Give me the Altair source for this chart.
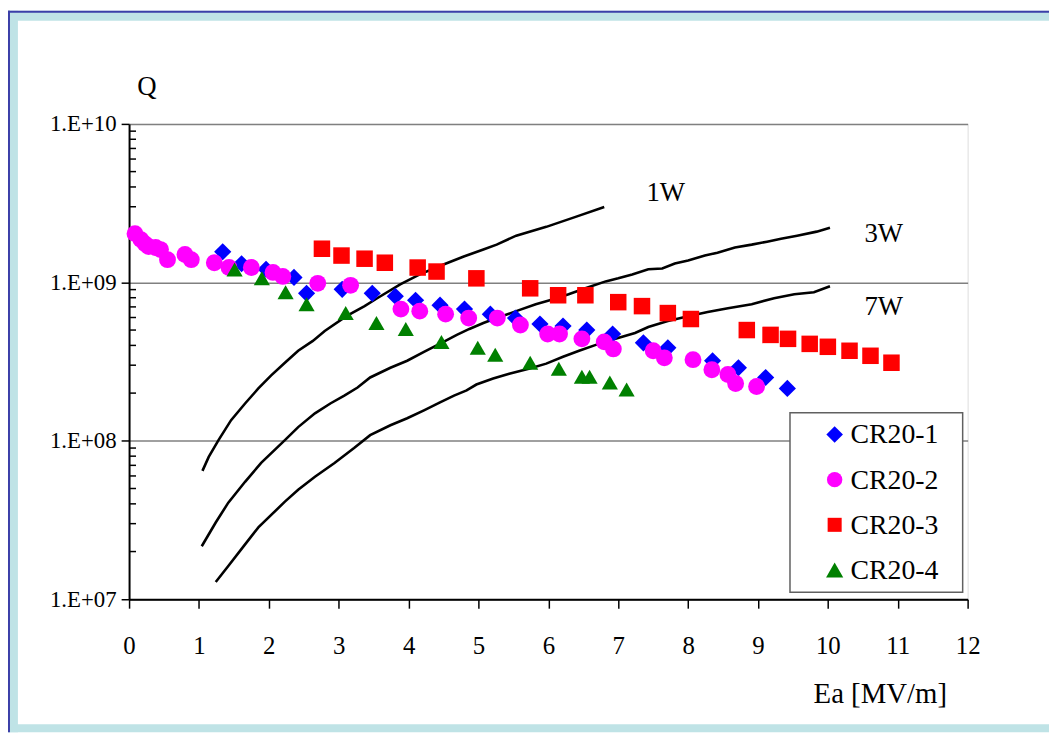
import altair as alt
import pandas as pd

# ---------------- data ----------------
series_names = ["CR20-1", "CR20-2", "CR20-3", "CR20-4"]
series_colors = ["#0000ff", "#ff00ff", "#ff0000", "#008000"]
series_shapes = ["diamond", "circle", "square", "triangle-up"]

ea_cr1 = [1.34, 1.61, 1.96, 2.36, 2.54, 3.05, 3.48, 3.81, 4.10, 4.45, 4.80, 5.17,
          5.53, 5.88, 6.21, 6.55, 6.92, 7.36, 7.71, 8.35, 8.72, 9.11, 9.42]
q_cr1 = [1.56e9, 1.31e9, 1.21e9, 1.075e9, 8.53e8, 9.04e8, 8.53e8, 8.17e8, 7.71e8,
         7.18e8, 6.78e8, 6.30e8, 5.95e8, 5.46e8, 5.30e8, 5.00e8, 4.72e8, 4.15e8,
         3.86e8, 3.20e8, 2.89e8, 2.51e8, 2.14e8]

ea_cr2 = [0.085, 0.17, 0.23, 0.28, 0.38, 0.45, 0.55, 0.80, 0.89, 1.22, 1.43, 1.75,
          2.06, 2.20, 2.70, 3.17, 3.89, 4.16, 4.53, 4.86, 5.27, 5.60, 5.99, 6.16,
          6.48, 6.80, 6.93, 7.50, 7.66, 8.07, 8.34, 8.57, 8.68, 8.98]
q_cr2 = [2.03e9, 1.86e9, 1.75e9, 1.68e9, 1.66e9, 1.61e9, 1.39e9, 1.50e9, 1.39e9,
         1.33e9, 1.24e9, 1.24e9, 1.155e9, 1.09e9, 9.86e8, 9.58e8, 6.78e8, 6.58e8,
         6.30e8, 5.95e8, 5.95e8, 5.38e8, 4.72e8, 4.72e8, 4.40e8, 4.21e8, 3.80e8,
         3.70e8, 3.34e8, 3.25e8, 2.81e8, 2.62e8, 2.30e8, 2.20e8]

ea_cr3 = [2.76, 3.04, 3.37, 3.66, 4.13, 4.40, 4.97, 5.74, 6.14, 6.53, 7.00, 7.34,
          7.71, 8.04, 8.84, 9.18, 9.43, 9.74, 10.00, 10.31, 10.61, 10.91]
q_cr3 = [1.63e9, 1.476e9, 1.41e9, 1.33e9, 1.24e9, 1.17e9, 1.06e9, 9.17e8, 8.29e8,
         8.29e8, 7.50e8, 7.08e8, 6.40e8, 5.87e8, 5.00e8, 4.66e8, 4.40e8, 4.09e8,
         3.92e8, 3.70e8, 3.44e8, 3.11e8]

ea_cr4 = [1.51, 1.90, 2.24, 2.54, 3.10, 3.54, 3.96, 4.47, 4.99, 5.24, 5.74, 6.15,
          6.48, 6.59, 6.88, 7.12]
q_cr4 = [1.206e9, 1.06e9, 8.66e8, 7.28e8, 6.40e8, 5.54e8, 5.08e8, 4.21e8, 3.86e8,
         3.49e8, 3.11e8, 2.85e8, 2.54e8, 2.54e8, 2.33e8, 2.11e8]

curve_names = ["1W", "3W", "7W"]

ea_1w = [1.05, 1.14, 1.28, 1.46, 1.66, 1.85, 2.03, 2.23, 2.42, 2.63, 2.80, 3.11,
         3.37, 3.55, 3.88, 4.16, 4.50, 4.79, 5.07, 5.26, 5.54, 5.97, 6.39, 6.80]
q_1w = [6.46e7, 7.91e7, 1.01e8, 1.35e8, 1.72e8, 2.14e8, 2.58e8, 3.11e8, 3.70e8,
        4.27e8, 4.93e8, 6.12e8, 7.08e8, 7.94e8, 9.72e8, 1.122e9, 1.296e9, 1.455e9,
        1.61e9, 1.73e9, 1.97e9, 2.24e9, 2.59e9, 2.99e9]

ea_3w = [1.04, 1.24, 1.42, 1.66, 1.89, 2.23, 2.42, 2.66, 2.88, 3.08, 3.27, 3.45,
         3.74, 3.98, 4.22, 4.50, 4.69, 4.87, 5.07, 5.26, 5.54, 5.82, 6.07, 6.29,
         6.53, 6.82, 7.00, 7.20, 7.43, 7.63, 7.81, 8.00, 8.24, 8.42, 8.67, 8.91,
         9.13, 9.33, 9.56, 9.84, 10.03]
q_3w = [2.16e7, 3.05e7, 4.07e7, 5.51e7, 7.25e7, 1.01e8, 1.22e8, 1.49e8, 1.72e8,
        1.93e8, 2.17e8, 2.51e8, 2.89e8, 3.20e8, 3.64e8, 4.21e8, 4.66e8, 5.08e8,
        5.54e8, 5.95e8, 6.58e8, 7.28e8, 7.83e8, 8.41e8, 9.17e8, 1.014e9, 1.06e9,
        1.12e9, 1.21e9, 1.224e9, 1.315e9, 1.374e9, 1.476e9, 1.54e9, 1.66e9,
        1.73e9, 1.806e9, 1.886e9, 1.97e9, 2.09e9, 2.21e9]

ea_7w = [1.24, 1.42, 1.66, 1.85, 2.23, 2.42, 2.66, 2.94, 3.22, 3.45, 3.74, 3.98,
         4.22, 4.45, 4.65, 4.83, 4.97, 5.21, 5.44, 5.72, 5.97, 6.21, 6.44, 6.68,
         6.96, 7.24, 7.43, 7.71, 8.00, 8.28, 8.57, 8.91, 9.23, 9.52, 9.80, 10.03]
q_7w = [1.285e7, 1.62e7, 2.22e7, 2.84e7, 4.13e7, 4.91e7, 5.93e7, 7.25e7, 9.0e7,
        1.086e8, 1.254e8, 1.387e8, 1.557e8, 1.747e8, 1.93e8, 2.08e8, 2.265e8,
        2.47e8, 2.65e8, 2.85e8, 3.07e8, 3.39e8, 3.70e8, 4.03e8, 4.40e8, 4.79e8,
        5.23e8, 5.70e8, 6.12e8, 6.49e8, 6.87e8, 7.28e8, 7.94e8, 8.41e8, 8.66e8,
        9.44e8]

label_text = ["1W", "3W", "7W"]
label_ea = [7.68, 10.8, 10.8]
label_q = [3.66e9, 2.03e9, 6.98e8]

y_tick_values = [1e7, 1e8, 1e9, 1e10]
x_tick_values = list(range(0, 13))
minor_mantissas = [2, 3, 4, 5, 6, 7, 8, 9]
minor_decades = [1e7, 1e8, 1e9]

# ---------------- tables ----------------
pts = pd.concat([
    pd.DataFrame({"Ea": ea, "Q": q, "series": name})
    for name, ea, q in zip(series_names,
                           [ea_cr1, ea_cr2, ea_cr3, ea_cr4],
                           [q_cr1, q_cr2, q_cr3, q_cr4])
], ignore_index=True)

curves = pd.concat([
    pd.DataFrame({"Ea": ea, "Q": q, "curve": name, "order": range(len(ea))})
    for name, ea, q in zip(curve_names, [ea_1w, ea_3w, ea_7w], [q_1w, q_3w, q_7w])
], ignore_index=True)

labels = pd.DataFrame({"text": label_text, "Ea": label_ea, "Q": label_q})
minor = pd.DataFrame({"Q": [m * d for d in minor_decades for m in minor_mantissas]})
one = pd.DataFrame({"a": [0]})

FONT = "Times New Roman, Liberation Serif, serif"

xscale = alt.Scale(domain=[0, 12], nice=False, zero=False)
yscale = alt.Scale(type="log", domain=[1e7, 1e10], nice=False)

x_axis = alt.Axis(values=x_tick_values, title=None, grid=False, format="d",
                  labelFont=FONT, labelFontSize=25, labelColor="black", labelPadding=26,
                  tickSize=9, tickColor="black", tickWidth=1.5,
                  domainColor="black", domainWidth=2, labelFlush=False)
y_axis = alt.Axis(values=y_tick_values, title=None, grid=True, gridColor="#808080",
                  gridWidth=1.5, labelFont=FONT, labelFontSize=23, labelColor="black",
                  labelPadding=5, tickSize=8, tickColor="black", tickWidth=1.5,
                  domainColor="black", domainWidth=2, labelFlush=False,
                  labelExpr="'1.E+' + (round(log(datum.value)/LN10) < 10 ? '0' : '') + round(log(datum.value)/LN10)")

# ---------------- slide frame decoration ----------------
frame_light = "#bfe3e6"
frame_dark = "#3b3fa8"
deco = alt.layer(
    alt.Chart(one).mark_rect(color=frame_light).encode(
        x=alt.value(-122), x2=alt.value(-112), y=alt.value(-114), y2=alt.value(613)),
    alt.Chart(one).mark_rect(color=frame_light).encode(
        x=alt.value(-122), x2=alt.value(927), y=alt.value(-114), y2=alt.value(-104)),
    alt.Chart(one).mark_rect(color=frame_light).encode(
        x=alt.value(-122), x2=alt.value(927), y=alt.value(605), y2=alt.value(613)),
    alt.Chart(one).mark_rect(color=frame_dark).encode(
        x=alt.value(-122), x2=alt.value(-120), y=alt.value(-114), y2=alt.value(613)),
    alt.Chart(one).mark_rect(color=frame_dark).encode(
        x=alt.value(-122), x2=alt.value(927), y=alt.value(-114), y2=alt.value(-112)),
)

base_axes = alt.Chart(minor).mark_rule(color="black", strokeWidth=1.5).encode(
    x=alt.value(0), x2=alt.value(7),
    y=alt.Y("Q:Q", scale=yscale, axis=y_axis),
)

lines = alt.Chart(curves).mark_line(color="black", strokeWidth=2.6).encode(
    x=alt.X("Ea:Q", scale=xscale, axis=x_axis),
    y=alt.Y("Q:Q", scale=yscale),
    detail="curve:N",
    order="order:Q",
)

points = alt.Chart(pts).mark_point(filled=True, opacity=1).encode(
    x=alt.X("Ea:Q", scale=xscale),
    y=alt.Y("Q:Q", scale=yscale),
    color=alt.Color("series:N",
                    scale=alt.Scale(domain=series_names, range=series_colors),
                    legend=None),
    shape=alt.Shape("series:N",
                    scale=alt.Scale(domain=series_names, range=series_shapes),
                    legend=None),
    size=alt.Size("series:O",
                  scale=alt.Scale(domain=series_names, range=[300, 265, 230, 340]),
                  legend=None),
)

curve_labels = alt.Chart(labels).mark_text(font=FONT, fontSize=27, color="black").encode(
    x=alt.X("Ea:Q", scale=xscale),
    y=alt.Y("Q:Q", scale=yscale),
    text="text:N",
)

q_title = alt.Chart(one).mark_text(text="Q", font=FONT, fontSize=27, color="black").encode(
    x=alt.value(18), y=alt.value(-37))
ea_title = alt.Chart(one).mark_text(text="Ea [MV/m]", font=FONT, fontSize=29,
                                    color="black").encode(
    x=alt.value(757), y=alt.value(575))

# ---------------- legend box (drawn by hand) ----------------
legend_layers = [
    alt.Chart(one).mark_rect(fill="white", stroke="#606060", strokeWidth=1.5).encode(
        x=alt.value(666), x2=alt.value(840), y=alt.value(291), y2=alt.value(472))
]
legend_sizes = [280, 240, 200, 300]
for i, name in enumerate(series_names):
    yy = 313 + i * 45.5
    legend_layers.append(
        alt.Chart(one).mark_point(filled=True, opacity=1).encode(
            x=alt.value(711), y=alt.value(yy),
            shape=alt.value(series_shapes[i]), color=alt.value(series_colors[i]),
            size=alt.value(legend_sizes[i])))
    legend_layers.append(
        alt.Chart(one).mark_text(text=name, font=FONT, fontSize=28, color="black",
                                 align="left", baseline="middle").encode(
            x=alt.value(727), y=alt.value(yy + 1)))

chart = alt.layer(
    deco, base_axes, lines, points, curve_labels, q_title, ea_title, *legend_layers
).properties(
    width=845, height=479,
    padding={"left": 122, "top": 114, "right": 82, "bottom": 134},
    autosize=alt.AutoSizeParams(type="none"),
).configure_view(stroke="#808080", strokeWidth=1.5).configure(background="white")

chart.save("out.html", embed_options={"renderer": "svg", "actions": False})
